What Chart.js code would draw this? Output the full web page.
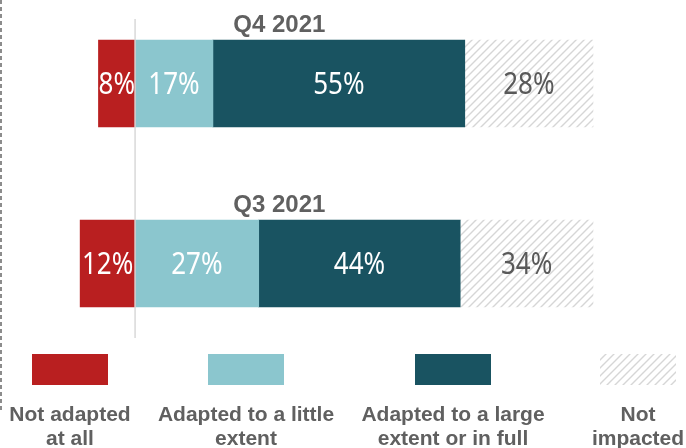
<!DOCTYPE html>
<html>
<head>
<meta charset="utf-8">
<script src="https://cdn.jsdelivr.net/npm/chart.js@4/dist/chart.umd.min.js"></script>
<style>
  html, body { margin: 0; padding: 0; background: #fff; }
  #wrap { width: 686px; height: 448px; position: relative; }
</style>
</head>
<body>
<div id="wrap"><canvas id="chart"></canvas></div>
<script>
const categories    = ['Q4 2021', 'Q3 2021'];
const notAdapted    = [8, 12];
const littleExtent  = [17, 27];
const largeExtent   = [55, 44];
const notImpacted   = [28, 34];   // printed values
const notImpactedBar = [28, 29];  // drawn length: the hatched bar runs out to 100%
const legendLabels  = [
  ['Not adapted', 'at all'],
  ['Adapted to a little', 'extent'],
  ['Adapted to a large', 'extent or in full'],
  ['Not', 'impacted']
];

const RED   = '#b91f20';
const LIGHT = '#8bc6ce';
const DARK  = '#195361';
const GREY  = '#606060';

function makeHatch() {
  const c = document.createElement('canvas');
  c.width = 8; c.height = 8;
  const g = c.getContext('2d');
  g.fillStyle = '#fff';
  g.fillRect(0, 0, 8, 8);
  g.strokeStyle = '#d6d6d6';
  g.lineWidth = 1.4;
  g.beginPath();
  g.moveTo(-2, 10); g.lineTo(10, -2);
  g.moveTo(-2, 2);  g.lineTo(2, -2);
  g.moveTo(6, 10);  g.lineTo(10, 6);
  g.stroke();
  return g.createPattern(c, 'repeat');
}
const hatch = makeHatch();

const labelValues = [notAdapted, littleExtent, largeExtent, notImpacted];
const labelColors = ['#fff', '#fff', '#fff', '#595959'];
const legendColors = [RED, LIGHT, DARK, hatch];
const legendCenters = [70, 246, 453, 638];

const overlay = {
  id: 'overlay',
  afterDatasetsDraw(chart) {
    const { ctx, scales: { x, y } } = chart;
    ctx.save();

    // zero line
    const x0 = x.getPixelForValue(0);
    ctx.strokeStyle = '#d9d9d9';
    ctx.lineWidth = 1.5;
    ctx.beginPath();
    ctx.moveTo(x0, 19); ctx.lineTo(x0, 338);
    ctx.stroke();

    // segment labels
    ctx.textAlign = 'center';
    ctx.textBaseline = 'middle';
    ctx.font = '26px "Noto Sans"';
    chart.data.datasets.forEach((ds, di) => {
      const meta = chart.getDatasetMeta(di);
      meta.data.forEach((bar, i) => {
        const c = bar.getCenterPoint();
        ctx.save();
        ctx.translate(c.x, c.y);
        ctx.scale(1, 1.22);
        ctx.fillStyle = labelColors[di];
        ctx.fillText(labelValues[di][i] + '%', 0, 1);
        ctx.restore();
      });
    });

    // category titles
    ctx.font = 'bold 24px "Liberation Sans", Arial';
    ctx.fillStyle = GREY;
    ctx.textBaseline = 'alphabetic';
    const meta0 = chart.getDatasetMeta(0);
    categories.forEach((cat, i) => {
      const bar = meta0.data[i];
      ctx.fillText(cat, x.getPixelForValue(31.5), bar.y - bar.height / 2 - 8);
    });

    // legend
    ctx.font = 'bold 21px "Liberation Sans", Arial';
    legendLabels.forEach((lines, i) => {
      const cx = legendCenters[i];
      ctx.fillStyle = legendColors[i];
      ctx.fillRect(cx - 38, 354, 76, 31);
      ctx.fillStyle = GREY;
      ctx.fillText(lines[0], cx, 421);
      ctx.fillText(lines[1], cx, 445);
    });

    // dashed divider on the left edge
    ctx.strokeStyle = '#8c8c8c';
    ctx.lineWidth = 2;
    ctx.setLineDash([4, 3]);
    ctx.beginPath();
    ctx.moveTo(1, 0); ctx.lineTo(1, 410);
    ctx.stroke();

    ctx.restore();
  }
};

new Chart(document.getElementById('chart'), {
  type: 'bar',
  data: {
    labels: categories,
    datasets: [
      { label: 'Not adapted at all', data: notAdapted.map(v => -v), backgroundColor: RED },
      { label: 'Adapted to a little extent', data: littleExtent, backgroundColor: LIGHT },
      { label: 'Adapted to a large extent or in full', data: largeExtent, backgroundColor: DARK },
      { label: 'Not impacted', data: notImpactedBar, backgroundColor: hatch }
    ].map(d => ({ ...d, borderWidth: 0, barThickness: 87, clip: false }))
  },
  options: {
    indexAxis: 'y',
    responsive: true,
    maintainAspectRatio: false,
    animation: false,
    layout: { padding: { left: 0, right: 93, top: 83.5, bottom: 184.5 } },
    plugins: { legend: { display: false }, tooltip: { enabled: false } },
    scales: {
      x: { stacked: true, min: -29.5, max: 100, display: false },
      y: { stacked: true, offset: false, display: false }
    }
  },
  plugins: [overlay]
});
</script>
</body>
</html>
